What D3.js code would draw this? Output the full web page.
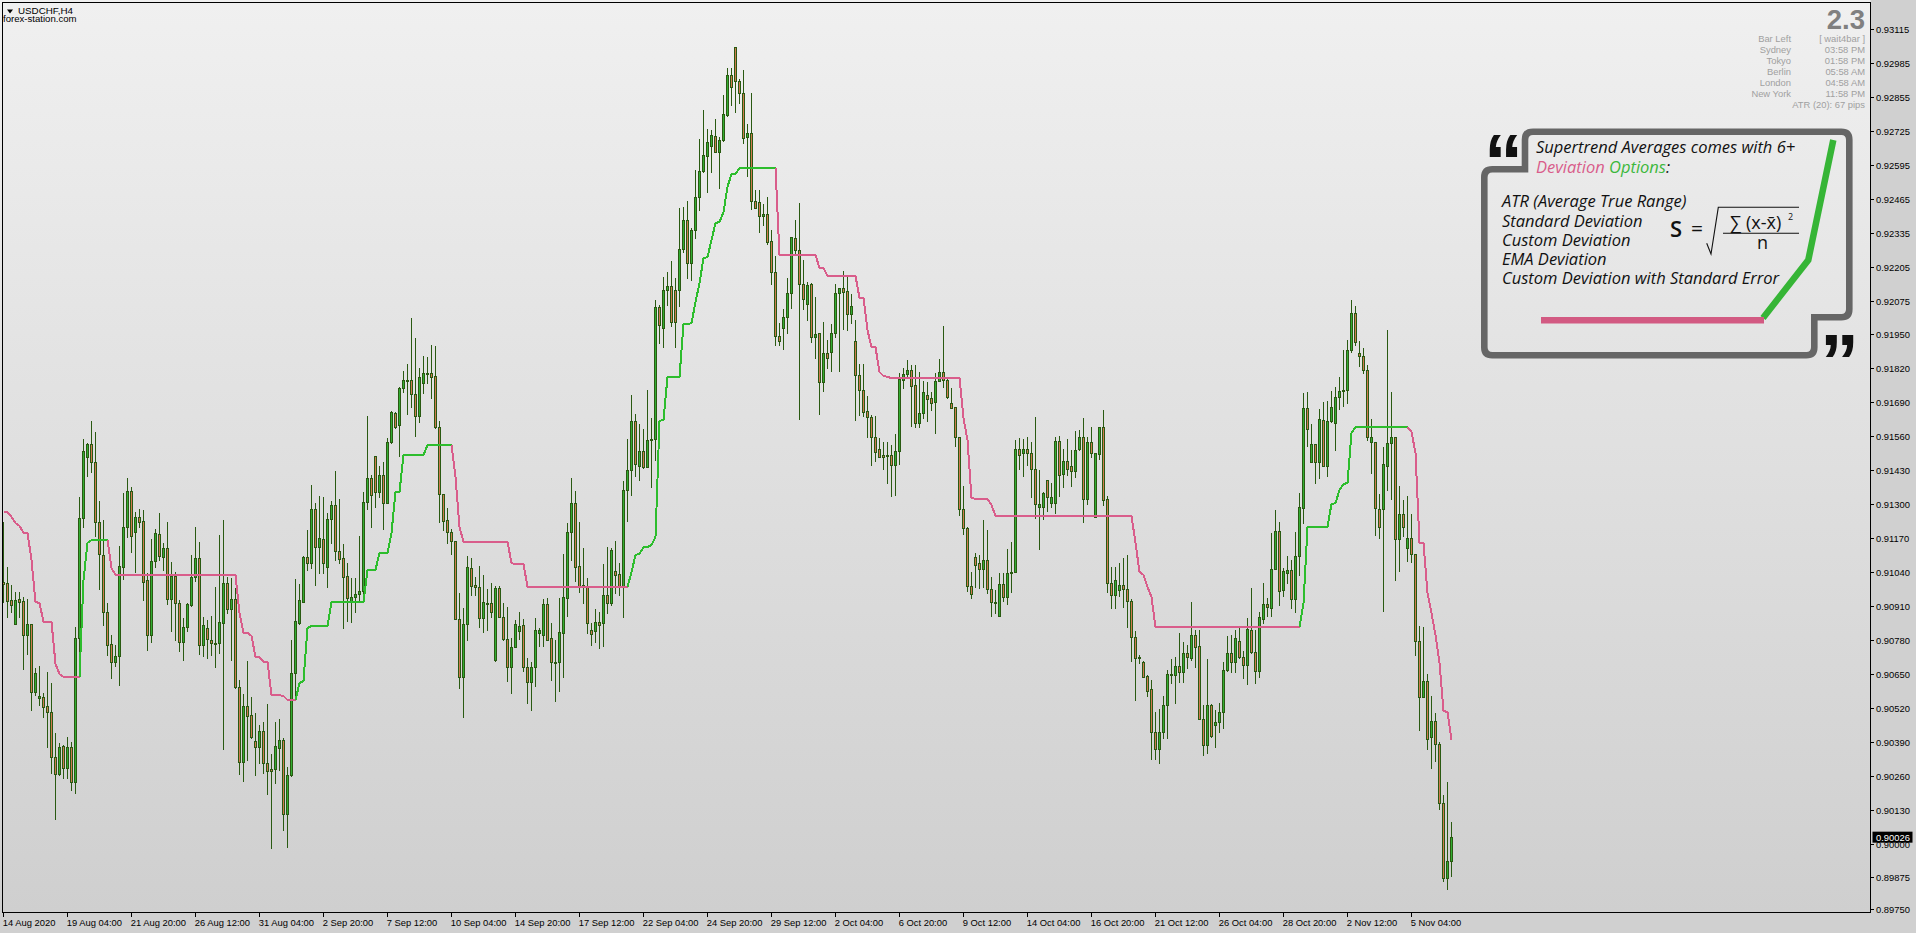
<!DOCTYPE html>
<html><head><meta charset="utf-8">
<script src="https://cdn.jsdelivr.net/npm/d3@7"></script>
<style>html,body{margin:0;padding:0;background:#d0d0d0;overflow:hidden}svg{display:block}</style></head>
<body><svg id="c" width="1916" height="933"></svg>
<script>
const symbolLabel="USDCHF,H4", siteLabel="forex-station.com";
// prices in points (1e-5)
const opens=[91001,90997,90932,90840,90936,90928,90798,90840,90581,90558,
90561,90527,90504,90332,90267,90374,90290,90370,90237,90787,
91245,91478,91528,91459,91230,91104,90886,90764,90695,90718,
91058,91211,91348,91192,91249,91234,91008,90798,91081,91184,
91096,91131,90936,91024,90921,90772,90829,90913,91020,91092,
90760,90825,90779,90764,90768,90844,90997,90898,90936,90600,
90313,90527,90493,90393,90370,90432,90309,90286,90286,90367,
90397,90115,90264,90653,90844,90924,91096,91073,91280,91134,
91165,91058,91241,91295,91119,91092,91024,90928,90943,90955,
90966,91306,91398,91482,91345,91410,91302,91536,91646,91601,
91742,91772,91772,91719,91635,91761,91795,91799,91788,91593,
91337,91238,91192,91157,90859,90638,90840,91054,90989,90982,
90863,90917,90921,90703,90978,90867,90783,90676,90752,90814,
90837,90676,90619,90676,90806,90798,90917,90787,90695,90695,
90806,90940,91192,91302,91062,90989,90982,90817,90814,90848,
90844,90951,90921,91043,91031,90982,91352,91429,91616,91444,
91501,91440,91543,91547,92051,91971,92116,92131,92116,92116,
92273,92384,92219,92345,92471,92571,92628,92666,92704,92643,
92689,92785,92938,93044,92915,92869,92701,92716,92456,92452,
92399,92407,92303,92185,91940,91971,92013,92105,92315,92269,
92139,92063,92139,91937,91952,91765,91876,91879,91952,92105,
92124,92112,92024,91921,91791,91734,91654,91631,91555,91509,
91486,91486,91486,91448,91501,91772,91795,91811,91753,91608,
91646,91715,91704,91688,91769,91803,91772,91685,91669,91555,
91280,91207,90986,91096,91073,91050,91085,90974,90924,90871,
90993,90943,91035,91039,91509,91494,91509,91494,91432,91287,
91287,91390,91302,91302,91539,91413,91463,91444,91425,91509,
91555,91318,91536,91249,91490,91593,91318,90997,90951,90970,
90989,90974,90928,90791,90710,90695,90642,90592,90428,90363,
90428,90531,90646,90646,90680,90657,90730,90710,90798,90756,
90477,90378,90531,90455,90466,90504,90665,90730,90695,90775,
90714,90684,90817,90733,90661,90859,90917,90901,91050,91196,
90970,91035,91047,90936,91100,91283,91665,91459,91528,91459,
91620,91444,91616,91608,91707,91730,91734,91887,92028,91876,
91864,91811,91536,91536,91280,91280,91444,91532,91555,91165,
91260,91131,91169,91108,90775,90561,90623,90409,90470,90382,
90156,89870,89935];
const highs=[91230,91058,90989,90963,90963,90943,90936,90840,90672,90680,
90577,90657,90615,90424,90386,90378,90409,90390,90829,91325,
91547,91532,91616,91574,91310,91238,90921,90798,90760,91138,
91341,91398,91364,91268,91280,91276,91035,91165,91203,91264,
91150,91230,91077,91039,90932,90863,90921,91104,91211,91154,
90867,90856,90871,90982,91180,91238,91020,91016,90978,90626,
90573,90699,90561,90500,90455,90466,90535,90344,90466,90477,
90405,90294,90779,91012,90993,91100,91199,91371,91302,91329,
91325,91264,91310,91425,91318,91146,91073,91016,91016,91176,
91345,91635,91410,91482,91444,91459,91551,91654,91650,91746,
91807,91834,92009,91933,91818,91864,91860,91906,91902,91616,
91337,91283,91203,91157,90959,90901,91100,91092,91020,91062,
91028,90974,90997,90986,90986,90921,90905,90787,90856,90886,
90859,90710,90695,90863,90825,90936,90940,90844,90779,90940,
91108,91226,91398,91348,91230,91131,91016,90844,90898,90886,
91069,91134,91131,91157,91073,91387,91547,91715,91643,91604,
91585,91734,91627,92078,92059,92166,92185,92227,92162,92429,
92433,92456,92353,92575,92693,92804,92731,92727,92769,92701,
92861,92964,92964,93044,92922,92957,92750,92869,92498,92498,
92445,92471,92345,92246,91990,92044,92162,92319,92384,92449,
92231,92147,92143,92089,91952,91994,91925,91986,92139,92124,
92189,92170,92101,92002,91834,91834,91711,91639,91635,91551,
91536,91536,91524,91566,91799,91818,91849,91830,91830,91803,
91769,91765,91727,91799,91853,91979,91784,91742,91669,91555,
91367,91211,91039,91112,91104,91238,91199,91020,90970,91035,
91035,91127,91154,91543,91551,91547,91555,91536,91631,91429,
91345,91390,91379,91555,91559,91509,91547,91505,91578,91581,
91627,91555,91593,91494,91593,91658,91329,91058,91058,91073,
91092,91104,90936,90814,90722,90699,90646,90626,90504,90516,
90565,90665,90707,90714,90806,90772,90760,90924,90817,90817,
90531,90707,90535,90512,90539,90695,90795,90798,90817,90825,
90737,90863,90978,90817,90886,90997,90940,91188,91276,91230,
91054,91100,91085,91192,91341,91723,91727,91604,91528,91662,
91688,91692,91730,91746,91784,91887,91925,92078,92055,91921,
91895,91830,91623,91536,91337,91516,91963,91727,91555,91367,
91314,91329,91260,91108,90833,90829,90649,90565,90500,90390,
90187,90237,90084];
const lows=[90924,90867,90886,90840,90867,90668,90726,90512,90569,90531,
90485,90370,90271,90095,90264,90252,90252,90206,90195,90714,
91211,91406,91421,91176,90974,90837,90722,90634,90680,90607,
91012,91173,91115,91039,91211,90932,90741,90772,91058,91085,
91047,90917,90814,90779,90737,90703,90814,90909,91005,90726,
90718,90710,90722,90676,90730,90363,90882,90703,90596,90267,
90241,90321,90405,90264,90309,90271,90191,89985,90233,90283,
90053,89988,90260,90550,90840,90924,91047,91054,90989,91035,
91035,90982,91150,91085,91073,90825,90852,90848,90886,90928,
90924,91280,91211,91287,91325,91203,91302,91532,91589,91482,
91727,91643,91669,91559,91612,91723,91761,91704,91589,91230,
91199,91150,91108,90859,90596,90485,90779,90951,90951,90829,
90810,90817,90867,90699,90867,90779,90623,90577,90752,90783,
90661,90539,90512,90604,90756,90756,90779,90626,90546,90584,
90638,90871,91085,91005,90963,90921,90806,90760,90772,90749,
90756,90882,90913,90959,90951,90867,91234,91333,91406,91390,
91436,91440,91364,91467,91914,91898,92059,91979,91898,92055,
92261,92162,92154,92315,92422,92567,92491,92567,92643,92506,
92685,92781,92823,92796,92831,92678,92552,92426,92429,92338,
92365,92292,92139,91906,91906,91891,91952,92047,92254,91623,
92044,92002,91918,91856,91643,91730,91818,91807,91937,91807,
91967,91963,91990,91620,91639,91635,91555,91448,91463,91478,
91432,91379,91329,91333,91452,91742,91780,91597,91593,91593,
91627,91616,91658,91570,91769,91746,91704,91665,91520,91257,
91184,90966,90940,90982,90978,90982,90959,90871,90882,90871,
90928,90917,90963,91039,91432,91406,91448,91325,91245,91127,
91241,91272,91287,91264,91329,91364,91410,91367,91402,91505,
91230,91299,91478,91249,91471,91295,90963,90901,90901,90947,
90905,90829,90699,90550,90691,90638,90565,90325,90325,90309,
90405,90405,90615,90539,90619,90619,90672,90703,90676,90477,
90340,90348,90409,90370,90428,90443,90661,90657,90657,90710,
90634,90611,90730,90615,90638,90844,90871,90871,91050,90913,
90947,90997,90901,90886,91028,91226,91520,91459,91379,91398,
91444,91406,91612,91505,91662,91673,91685,91879,91906,91826,
91799,91543,91417,91180,91169,90890,91352,91318,91008,91043,
91176,91081,91077,90722,90435,90561,90363,90290,90317,90134,
89859,89828,89878];
const closes=[90993,90928,90913,90932,90924,90798,90840,90581,90653,90565,
90523,90504,90332,90267,90370,90290,90370,90237,90787,91245,
91501,91528,91459,91230,91108,90886,90760,90695,90718,91062,
91211,91348,91176,91249,91230,91001,90798,91081,91188,91100,
91131,90936,91024,90921,90772,90829,90917,91020,91092,90760,
90837,90783,90768,90768,90848,90997,90898,90936,90600,90313,
90527,90489,90409,90370,90432,90309,90279,90279,90374,90397,
90115,90264,90653,90852,90932,91096,91073,91280,91134,91169,
91073,91241,91295,91119,91089,91020,90940,90943,90955,90966,
91306,91398,91333,91345,91410,91302,91536,91650,91593,91742,
91772,91769,91719,91635,91784,91799,91799,91784,91593,91337,
91234,91192,91157,90859,90638,90840,91058,90986,90982,90863,
90924,90921,90886,90978,90867,90783,90676,90752,90840,90833,
90676,90619,90676,90817,90817,90917,90779,90695,90691,90810,
90943,91192,91302,91058,90982,90982,90844,90802,90848,90837,
90951,90921,91123,91028,90982,91352,91429,91616,91452,91501,
91440,91543,91547,92051,91983,92116,92131,91994,91994,92273,
92384,92219,92345,92471,92571,92632,92682,92708,92643,92689,
92789,92938,92892,92915,92869,92697,92716,92456,92429,92399,
92407,92300,92185,91940,91921,92013,92105,92319,92269,92139,
92082,92135,91937,91948,91765,91876,91856,91952,92105,92124,
92109,92024,92055,91791,91734,91650,91631,91555,91497,91478,
91478,91482,91448,91501,91776,91795,91811,91749,91608,91646,
91727,91700,91685,91769,91803,91772,91707,91665,91555,91280,
91207,90986,90955,91066,91050,91085,90974,90924,90921,90993,
90943,91035,91039,91509,91486,91509,91494,91432,91299,91299,
91341,91325,91325,91539,91410,91463,91432,91425,91505,91555,
91318,91536,91494,91494,91593,91314,90997,90951,91008,90989,
90974,90928,90791,90710,90714,90638,90584,90428,90363,90428,
90531,90649,90649,90680,90657,90730,90714,90798,90752,90477,
90378,90531,90413,90466,90504,90665,90730,90695,90787,90714,
90684,90821,90733,90661,90867,90917,90905,91050,91196,90966,
91043,91047,90936,91100,91287,91665,91585,91528,91459,91623,
91444,91616,91669,91707,91730,91734,91887,92028,91918,91864,
91811,91555,91555,91283,91211,91452,91532,91555,91165,91260,
91211,91169,91108,90775,90561,90623,90401,90470,90382,90156,
89870,89935,90026];
const supertrend=[91268,91268,91249,91226,91215,91188,91188,91085,90924,90921,
90848,90848,90848,90688,90649,90638,90638,90638,90638,90638,
91008,91150,91161,91161,91161,91161,91161,91054,91028,91028,
91028,91028,91028,91028,91028,91028,91028,91028,91028,91028,
91028,91028,91028,91028,91028,91028,91028,91028,91028,91028,
91028,91028,91028,91028,91028,91028,91028,91028,91028,90882,
90806,90806,90795,90714,90714,90695,90695,90569,90569,90569,
90565,90550,90550,90550,90615,90623,90825,90833,90833,90833,
90833,90833,90924,90924,90924,90924,90924,90924,90924,90924,
90924,91047,91047,91047,91112,91112,91112,91188,91345,91345,
91486,91486,91486,91486,91486,91486,91524,91524,91524,91524,
91524,91524,91524,91402,91211,91154,91154,91154,91154,91154,
91154,91154,91154,91154,91154,91154,91154,91073,91069,91069,
91069,90982,90982,90982,90982,90982,90982,90982,90982,90982,
90982,90982,90982,90982,90982,90982,90982,90982,90982,90982,
90982,90982,90982,90982,90982,90982,90982,91039,91104,91108,
91134,91134,91142,91173,91616,91620,91784,91784,91784,91784,
91986,91986,91990,92070,92143,92238,92242,92307,92372,92376,
92414,92510,92559,92559,92582,92582,92582,92582,92582,92582,
92582,92582,92582,92582,92250,92250,92250,92250,92250,92250,
92250,92250,92250,92250,92200,92200,92170,92170,92170,92170,
92170,92170,92170,92170,92086,92086,91963,91898,91898,91803,
91788,91784,91780,91780,91780,91780,91780,91780,91780,91780,
91780,91780,91780,91780,91780,91780,91780,91780,91780,91780,
91627,91543,91322,91318,91318,91318,91318,91295,91253,91253,
91253,91253,91253,91253,91253,91253,91253,91253,91253,91253,
91253,91253,91253,91253,91253,91253,91253,91253,91253,91253,
91253,91253,91253,91253,91253,91253,91253,91253,91253,91253,
91253,91253,91253,91150,91039,91028,90982,90943,90829,90829,
90829,90829,90829,90829,90829,90829,90829,90829,90829,90829,
90829,90829,90829,90829,90829,90829,90829,90829,90829,90829,
90829,90829,90829,90829,90829,90829,90829,90829,90829,90829,
90829,90829,90829,90829,90829,90921,91211,91211,91211,91211,
91211,91211,91299,91302,91352,91375,91379,91570,91593,91593,
91593,91593,91593,91593,91593,91593,91593,91593,91593,91593,
91593,91593,91574,91494,91150,91150,90959,90882,90798,90691,
90508,90504,90397];
const trendStarts=[0,19,26,73,112,156,193,324,351];
const trendNames=["down","up","down","up","down","up","down","up","down"];
const priceTicks=[0.93115,0.92985,0.92855,0.92725,0.92595,0.92465,0.92335,0.92205,0.92075,0.9195,0.9182,0.9169,0.9156,0.9143,0.913,0.9117,0.9104,0.9091,0.9078,0.9065,0.9052,0.9039,0.9026,0.9013,0.9,0.89875,0.8975];
const timeLabels=["14 Aug 2020","19 Aug 04:00","21 Aug 20:00","26 Aug 12:00","31 Aug 04:00","2 Sep 20:00","7 Sep 12:00","10 Sep 04:00","14 Sep 20:00","17 Sep 12:00","22 Sep 04:00","24 Sep 20:00","29 Sep 12:00","2 Oct 04:00","6 Oct 20:00","9 Oct 12:00","14 Oct 04:00","16 Oct 20:00","21 Oct 12:00","26 Oct 04:00","28 Oct 20:00","2 Nov 12:00","5 Nov 04:00"];
const barsPerLabel=16;
const lastPrice=0.90026;
const infoLabels=["Bar Left","Sydney","Tokyo","Berlin","London","New York"];
const infoValues=["[ wait4bar ]","03:58 PM","01:58 PM","05:58 AM","04:58 AM","11:58 PM"];
const atrLabel="ATR (20): 67 pips", spreadLabel="2.3";
const calloutList=["ATR (Average True Range)","Standard Deviation","Custom Deviation","EMA Deviation","Custom Deviation with Standard Error"];

const W=1916,H=933,plotR=1870.5,plotB=912.5,plotL=2.5,plotT=2.5;
const PINK="#d95d8b",GREEN="#2dbd2d",WICK="#2a5a12",UPF="#32ad32",DNF="#cf7a4e";
const svg=d3.select("#c");
const defs=svg.append("defs");
const g=defs.append("linearGradient").attr("id","bg").attr("x1",0).attr("y1",0).attr("x2",0).attr("y2",1);
g.append("stop").attr("offset",0).attr("stop-color","#f0f0f0");
g.append("stop").attr("offset",1).attr("stop-color","#cfcfcf");
svg.append("rect").attr("width",W).attr("height",H).attr("fill","#d0d0d0");
svg.append("rect").attr("width",plotR).attr("height",plotB).attr("fill","url(#bg)");

const x=d3.scaleLinear().domain([0,1]).range([3.5,7.5]);
const y=d3.scaleLinear().domain([0.93224,0.93224-933*3.82e-5]).range([0,933]);
const py=v=>Math.round(y(v/1e5))+0.5;

const candles=svg.append("g").attr("shape-rendering","crispEdges");
d3.range(opens.length).forEach(i=>{
  const cx=x(i),t=py(Math.max(opens[i],closes[i])),b=py(Math.min(opens[i],closes[i]));
  candles.append("line").attr("x1",cx).attr("x2",cx).attr("y1",py(highs[i])-.5).attr("y2",py(lows[i])+.5).attr("stroke",WICK);
  candles.append("rect").attr("x",cx-1).attr("width",2).attr("y",t).attr("height",Math.max(b-t,1))
    .attr("fill",closes[i]>=opens[i]?UPF:DNF).attr("stroke",WICK);
});

const line=d3.line().x(i=>x(i)).y(i=>y(supertrend[i]/1e5));
trendStarts.forEach((s,k)=>{
  const e=k+1<trendStarts.length?trendStarts[k+1]:supertrend.length-1;
  svg.append("path").attr("d",line(d3.range(s,e+1))).attr("fill","none")
    .attr("stroke",trendNames[k]==="up"?GREEN:PINK).attr("stroke-width",2).attr("shape-rendering","crispEdges");
});

// frame
const frame=svg.append("g").attr("shape-rendering","crispEdges").attr("stroke","#000");
frame.append("path").attr("fill","none").attr("d",`M${plotL},${plotB}V${plotT}H${plotR}V${plotB}Z`);

const FONT='"Liberation Sans",Arial,sans-serif', FS=9.4;
// price axis
const pa=svg.append("g").attr("font-family",FONT).attr("font-size",FS).attr("fill","#000");
priceTicks.forEach(p=>{
  const yy=Math.round(y(p))+.5;
  pa.append("line").attr("x1",plotR).attr("x2",plotR+3).attr("y1",yy).attr("y2",yy).attr("stroke","#000").attr("shape-rendering","crispEdges");
  pa.append("text").attr("x",1876).attr("y",yy+3.5).text(p.toFixed(5));
});
const ly=y(lastPrice);
svg.append("rect").attr("x",1872.5).attr("y",ly-5.5).attr("width",40).attr("height",11).attr("fill","#000");
svg.append("text").attr("x",1876).attr("y",ly+3.5).attr("fill","#fff").attr("font-family",FONT).attr("font-size",FS).text(lastPrice.toFixed(5));
// time axis
const ta=svg.append("g").attr("font-family",FONT).attr("font-size",FS).attr("fill","#000");
timeLabels.forEach((l,k)=>{
  const xx=x(k*barsPerLabel);
  ta.append("line").attr("x1",xx).attr("x2",xx).attr("y1",plotB).attr("y2",plotB+4).attr("stroke","#000").attr("shape-rendering","crispEdges");
  ta.append("text").attr("x",xx-.8).attr("y",925.5).text(l);
});
// title
svg.append("path").attr("d","M7,9.5H13L10,13.5Z").attr("fill","#000");
svg.append("text").attr("x",18).attr("y",13.5).attr("font-family",FONT).attr("font-size",9.8).text(symbolLabel);
svg.append("text").attr("x",3).attr("y",21.5).attr("font-family",FONT).attr("font-size",9.6).text(siteLabel);
// info
svg.append("text").attr("x",1865).attr("y",29).attr("text-anchor","end").attr("font-family",FONT).attr("font-weight","bold").attr("font-size",27.5).attr("fill","#808080").text(spreadLabel);
const info=svg.append("g").attr("font-family",FONT).attr("font-size",FS).attr("fill","#a0a0a0");
infoLabels.forEach((l,k)=>{
  const yy=42+11*k;
  info.append("text").attr("x",1791).attr("y",yy).attr("text-anchor","end").text(l);
  info.append("text").attr("x",1865).attr("y",yy).attr("text-anchor","end").text(infoValues[k]);
});
info.append("text").attr("x",1865).attr("y",108).attr("text-anchor","end").text(atrLabel);

// callout
const r=8,c=svg.append("g");
c.append("path").attr("fill","none").attr("stroke","#666").attr("stroke-width",6.6)
 .attr("d",`M1525,169.3V${131.7+r}Q1525,131.7 ${1525+r},131.7H${1849.3-r}Q1849.3,131.7 1849.3,${131.7+r}V${317.3-r}Q1849.3,317.3 ${1849.3-r},317.3H1814.3V${355.3-r}Q1814.3,355.3 ${1814.3-r},355.3H${1484.3+r}Q1484.3,355.3 1484.3,${355.3-r}V${169.3+r}Q1484.3,169.3 ${1484.3+r},169.3Z`);
const OS='"Open Sans",sans-serif';
c.append("text").attr("x",1484).attr("y",189).attr("font-family",FONT).attr("font-weight","bold").attr("font-size",78).attr("fill","#111").text("\u201C");
c.append("text").attr("x",1820).attr("y",389).attr("font-family",FONT).attr("font-weight","bold").attr("font-size",78).attr("fill","#111").text("\u201D");
const ct=c.append("g").attr("font-family",OS).attr("font-style","italic").attr("font-size",16.5).attr("fill","#111");
ct.append("text").attr("x",1536).attr("y",153.3).text("Supertrend Averages comes with 6+");
const t2=ct.append("text").attr("x",1536).attr("y",172.7);
t2.append("tspan").attr("fill",PINK).text("Deviation ");
t2.append("tspan").attr("fill","#3cb83c").text("Options");
t2.append("tspan").text(":");
calloutList.forEach((l,k)=>ct.append("text").attr("x",1502).attr("y",207.3+19.2*k).text(l));
// formula
const f=c.append("g").attr("font-family",OS).attr("fill","#111");
f.append("text").attr("x",1670).attr("y",236.7).attr("font-size",22).attr("font-weight",600).text("S");
f.append("text").attr("x",1691).attr("y",235.5).attr("font-size",21).text("=");
f.append("path").attr("fill","none").attr("stroke","#111").attr("stroke-width",1.1).attr("d","M1706.7,243.3L1711,254L1718.3,207.3H1799");
f.append("line").attr("x1",1723).attr("x2",1799).attr("y1",233.3).attr("y2",233.3).attr("stroke","#111").attr("stroke-width",1.1);
f.append("text").attr("x",1730).attr("y",229).attr("font-size",18).text("\u2211 (x-x\u0304)");
f.append("text").attr("x",1788).attr("y",220).attr("font-size",9).text("2");
f.append("text").attr("x",1757).attr("y",249.3).attr("font-size",18).text("n");
// sample line
c.append("path").attr("fill","none").attr("stroke","#36b536").attr("stroke-width",6.5).attr("d","M1763,318L1808.3,260L1833.3,140");
c.append("path").attr("fill","none").attr("stroke","#d25a82").attr("stroke-width",6.5).attr("d","M1541,320.3H1764");
</script></body></html>
